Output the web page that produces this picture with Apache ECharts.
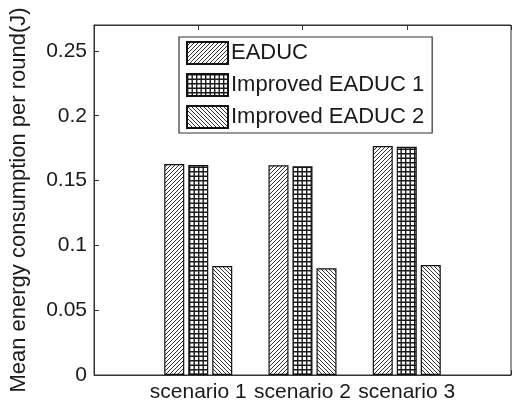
<!DOCTYPE html>
<html><head><meta charset="utf-8">
<script src="https://cdn.jsdelivr.net/npm/echarts@6/dist/echarts.min.js"></script>
<style>html,body{margin:0;padding:0;background:#fff}#c{width:514px;height:404px}</style>
</head><body><div id="c"></div>
<script>
const categories = ['scenario 1', 'scenario 2', 'scenario 3'];
const seriesNames = ['EADUC', 'Improved EADUC 1', 'Improved EADUC 2'];
const eaduc = [0.1628, 0.1618, 0.1767];
const improved1 = [0.1620, 0.1610, 0.1760];
const improved2 = [0.0841, 0.0823, 0.0849];
const yTicks = [0, 0.05, 0.1, 0.15, 0.2, 0.25];

function hatch(kind) {
  const c = document.createElement('canvas');
  const g = c.getContext('2d');
  if (kind === 'grid') {
    const s = 9;
    c.width = s; c.height = s;
    g.fillStyle = '#fff'; g.fillRect(0, 0, s, s);
    g.strokeStyle = '#1a1a1a'; g.lineWidth = 1.4;
    g.beginPath();
    [0.7, 5.2].forEach(p => { g.moveTo(p, 0); g.lineTo(p, s); g.moveTo(0, p); g.lineTo(s, p); });
    g.stroke();
  } else {
    const s = 4;
    c.width = s; c.height = s;
    g.fillStyle = '#fff'; g.fillRect(0, 0, s, s);
    g.strokeStyle = '#333'; g.lineWidth = 1;
    g.beginPath();
    if (kind === 'fwd') {
      g.moveTo(-1, s + 1); g.lineTo(s + 1, -1);
      g.moveTo(-1, 1); g.lineTo(1, -1);
      g.moveTo(s - 1, s + 1); g.lineTo(s + 1, s - 1);
    } else {
      g.moveTo(-1, -1); g.lineTo(s + 1, s + 1);
      g.moveTo(-1, s - 1); g.lineTo(1, s + 1);
      g.moveTo(s - 1, -1); g.lineTo(s + 1, 1);
    }
    g.stroke();
  }
  return { image: c, repeat: 'repeat' };
}

const pad = v => [null].concat(v, [null]);
const xData = [''].concat(categories, ['']);
const font = '"Liberation Sans", Arial, sans-serif';
const values = [eaduc, improved1, improved2];
const kinds = ['fwd', 'grid', 'back'];

const chart = echarts.init(document.getElementById('c'), null, { renderer: 'canvas' });
chart.setOption({
  animation: false,
  backgroundColor: '#fff',
  grid: { left: 89, top: 25, bottom: 29, width: 434, show: true, borderColor: '#333', borderWidth: 1 },
  legend: {
    orient: 'vertical', left: 179, top: 37, icon: 'rect',
    itemWidth: 41, itemHeight: 22, itemGap: 8,
    padding: [4, 8, 4, 7],
    borderColor: '#333', borderWidth: 1.2, backgroundColor: '#fff',
    textStyle: { fontFamily: font, fontSize: 22, lineHeight: 22, color: '#1a1a1a', padding: [0, 0, 0, -2] },
    data: seriesNames
  },
  xAxis: [{
    type: 'category', data: xData, boundaryGap: false, position: 'bottom',
    axisLine: { lineStyle: { color: '#333' } },
    axisTick: { inside: true, length: 5, lineStyle: { color: '#333' } },
    axisLabel: { fontFamily: font, fontSize: 21, color: '#1a1a1a', margin: 7, interval: 0 },
    splitLine: { show: false }
  }, {
    type: 'category', data: xData, boundaryGap: false, position: 'top',
    axisLine: { lineStyle: { color: '#333' } },
    axisTick: { inside: true, length: 5, lineStyle: { color: '#333' } },
    axisLabel: { show: false }
  }],
  yAxis: {
    type: 'value', min: 0, max: 0.27, interval: 0.05,
    name: 'Mean energy consumption per round(J)', nameLocation: 'middle', nameGap: 64,
    nameTextStyle: { fontFamily: font, fontSize: 22, color: '#1a1a1a' },
    axisLine: { show: true, lineStyle: { color: '#333' } },
    axisTick: { show: true, inside: true, length: 5, lineStyle: { color: '#333' } },
    axisLabel: { fontFamily: font, fontSize: 21, color: '#1a1a1a', margin: 7, showMaxLabel: false,
      formatter: v => (yTicks.some(t => Math.abs(t - v) < 1e-9) ? String(+v.toFixed(2)) : '') },
    splitLine: { show: false }
  },
  series: seriesNames.map((n, i) => ({
    name: n, type: 'bar', data: pad(values[i]), barWidth: 20, barGap: '20%',
    itemStyle: { color: hatch(kinds[i]), borderColor: '#111', borderWidth: 1.2 }
  }))
});
</script></body></html>
